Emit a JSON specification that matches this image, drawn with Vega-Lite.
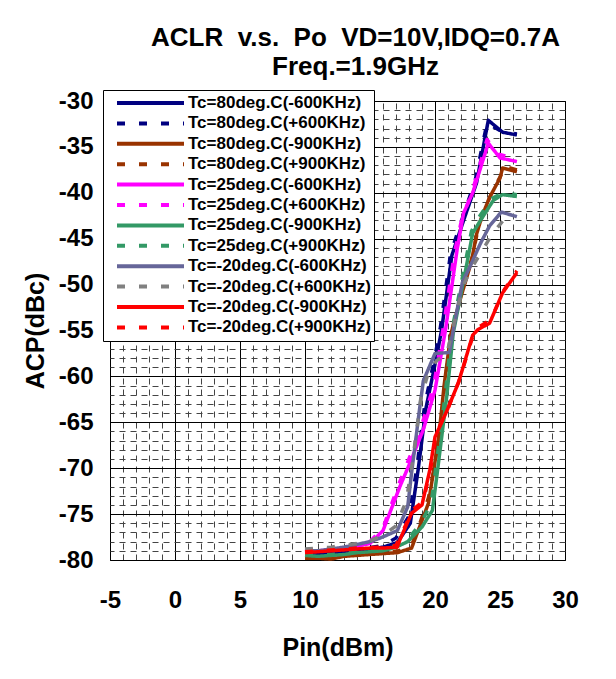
{
  "$schema": "https://vega.github.io/schema/vega-lite/v6.json",
  "width": 455,
  "height": 459,
  "autosize": "none",
  "padding": {"left": 110, "top": 101, "right": 51, "bottom": 119},
  "background": "white",
  "title": {
    "text": ["ACLR\u00a0\u00a0v.s.\u00a0\u00a0Po\u00a0\u00a0VD=10V,IDQ=0.7A", "Freq.=1.9GHz"],
    "font": "Liberation Sans", "fontSize": 26, "fontWeight": "bold", "color": "black",
    "anchor": "middle", "dx": 18, "lineHeight": 29, "offset": 9
  },
  "data": {"values": [
    {"s":"Tc=80deg.C(-600KHz)","pin":10,"acp":-79.4},{"s":"Tc=80deg.C(-600KHz)","pin":11,"acp":-79.4},{"s":"Tc=80deg.C(-600KHz)","pin":12,"acp":-79.3},{"s":"Tc=80deg.C(-600KHz)","pin":13,"acp":-79.2},{"s":"Tc=80deg.C(-600KHz)","pin":14,"acp":-79.0},{"s":"Tc=80deg.C(-600KHz)","pin":15,"acp":-78.8},{"s":"Tc=80deg.C(-600KHz)","pin":16,"acp":-78.6},{"s":"Tc=80deg.C(-600KHz)","pin":17.1,"acp":-78.1},{"s":"Tc=80deg.C(-600KHz)","pin":18.1,"acp":-76.0},{"s":"Tc=80deg.C(-600KHz)","pin":18.7,"acp":-70.2},{"s":"Tc=80deg.C(-600KHz)","pin":19.3,"acp":-63.5},{"s":"Tc=80deg.C(-600KHz)","pin":20.1,"acp":-58.0},{"s":"Tc=80deg.C(-600KHz)","pin":20.5,"acp":-55.0},{"s":"Tc=80deg.C(-600KHz)","pin":21.3,"acp":-46.8},{"s":"Tc=80deg.C(-600KHz)","pin":22.2,"acp":-43.0},{"s":"Tc=80deg.C(-600KHz)","pin":23.2,"acp":-38.9},{"s":"Tc=80deg.C(-600KHz)","pin":24.1,"acp":-32.1},{"s":"Tc=80deg.C(-600KHz)","pin":25.2,"acp":-33.4},{"s":"Tc=80deg.C(-600KHz)","pin":26.3,"acp":-33.7},
    {"s":"Tc=80deg.C(+600KHz)","pin":10,"acp":-79.3},{"s":"Tc=80deg.C(+600KHz)","pin":12,"acp":-79.2},{"s":"Tc=80deg.C(+600KHz)","pin":14,"acp":-78.9},{"s":"Tc=80deg.C(+600KHz)","pin":16,"acp":-78.4},{"s":"Tc=80deg.C(+600KHz)","pin":17,"acp":-77.6},{"s":"Tc=80deg.C(+600KHz)","pin":18,"acp":-75.2},{"s":"Tc=80deg.C(+600KHz)","pin":18.6,"acp":-70.0},{"s":"Tc=80deg.C(+600KHz)","pin":19.2,"acp":-63.2},{"s":"Tc=80deg.C(+600KHz)","pin":20,"acp":-57.8},{"s":"Tc=80deg.C(+600KHz)","pin":20.4,"acp":-54.8},{"s":"Tc=80deg.C(+600KHz)","pin":21.2,"acp":-46.6},{"s":"Tc=80deg.C(+600KHz)","pin":22.1,"acp":-42.8},{"s":"Tc=80deg.C(+600KHz)","pin":23.1,"acp":-38.6},{"s":"Tc=80deg.C(+600KHz)","pin":24.0,"acp":-32.4},{"s":"Tc=80deg.C(+600KHz)","pin":25.1,"acp":-33.3},{"s":"Tc=80deg.C(+600KHz)","pin":26.3,"acp":-33.6},
    {"s":"Tc=80deg.C(-900KHz)","pin":10,"acp":-79.8},{"s":"Tc=80deg.C(-900KHz)","pin":11,"acp":-79.8},{"s":"Tc=80deg.C(-900KHz)","pin":12,"acp":-79.9},{"s":"Tc=80deg.C(-900KHz)","pin":13,"acp":-79.6},{"s":"Tc=80deg.C(-900KHz)","pin":14,"acp":-79.5},{"s":"Tc=80deg.C(-900KHz)","pin":15,"acp":-79.4},{"s":"Tc=80deg.C(-900KHz)","pin":16,"acp":-79.3},{"s":"Tc=80deg.C(-900KHz)","pin":17.1,"acp":-79.2},{"s":"Tc=80deg.C(-900KHz)","pin":18.2,"acp":-78.7},{"s":"Tc=80deg.C(-900KHz)","pin":18.6,"acp":-77.2},{"s":"Tc=80deg.C(-900KHz)","pin":19.5,"acp":-73.8},{"s":"Tc=80deg.C(-900KHz)","pin":19.9,"acp":-70.2},{"s":"Tc=80deg.C(-900KHz)","pin":20.3,"acp":-66.5},{"s":"Tc=80deg.C(-900KHz)","pin":20.7,"acp":-61.0},{"s":"Tc=80deg.C(-900KHz)","pin":21.2,"acp":-55.5},{"s":"Tc=80deg.C(-900KHz)","pin":21.9,"acp":-51.8},{"s":"Tc=80deg.C(-900KHz)","pin":22.8,"acp":-47.5},{"s":"Tc=80deg.C(-900KHz)","pin":23.2,"acp":-44.5},{"s":"Tc=80deg.C(-900KHz)","pin":23.6,"acp":-42.6},{"s":"Tc=80deg.C(-900KHz)","pin":24.2,"acp":-40.5},{"s":"Tc=80deg.C(-900KHz)","pin":25.0,"acp":-38.4},{"s":"Tc=80deg.C(-900KHz)","pin":25.2,"acp":-37.3},{"s":"Tc=80deg.C(-900KHz)","pin":26.3,"acp":-37.7},
    {"s":"Tc=80deg.C(+900KHz)","pin":10,"acp":-79.7},{"s":"Tc=80deg.C(+900KHz)","pin":12,"acp":-79.7},{"s":"Tc=80deg.C(+900KHz)","pin":14,"acp":-79.4},{"s":"Tc=80deg.C(+900KHz)","pin":16,"acp":-79.2},{"s":"Tc=80deg.C(+900KHz)","pin":17.2,"acp":-79.0},{"s":"Tc=80deg.C(+900KHz)","pin":18.2,"acp":-78.4},{"s":"Tc=80deg.C(+900KHz)","pin":18.7,"acp":-76.6},{"s":"Tc=80deg.C(+900KHz)","pin":19.5,"acp":-73.2},{"s":"Tc=80deg.C(+900KHz)","pin":20,"acp":-69.5},{"s":"Tc=80deg.C(+900KHz)","pin":20.4,"acp":-65.5},{"s":"Tc=80deg.C(+900KHz)","pin":20.8,"acp":-60.2},{"s":"Tc=80deg.C(+900KHz)","pin":21.3,"acp":-55.0},{"s":"Tc=80deg.C(+900KHz)","pin":22,"acp":-51.2},{"s":"Tc=80deg.C(+900KHz)","pin":22.9,"acp":-46.8},{"s":"Tc=80deg.C(+900KHz)","pin":23.3,"acp":-44.0},{"s":"Tc=80deg.C(+900KHz)","pin":23.7,"acp":-42.2},{"s":"Tc=80deg.C(+900KHz)","pin":24.3,"acp":-40.2},{"s":"Tc=80deg.C(+900KHz)","pin":25.1,"acp":-38.0},{"s":"Tc=80deg.C(+900KHz)","pin":25.3,"acp":-37.1},{"s":"Tc=80deg.C(+900KHz)","pin":26.3,"acp":-37.5},
    {"s":"Tc=25deg.C(-600KHz)","pin":10,"acp":-79.1},{"s":"Tc=25deg.C(-600KHz)","pin":11,"acp":-79.0},{"s":"Tc=25deg.C(-600KHz)","pin":12,"acp":-78.9},{"s":"Tc=25deg.C(-600KHz)","pin":13,"acp":-78.8},{"s":"Tc=25deg.C(-600KHz)","pin":14,"acp":-78.5},{"s":"Tc=25deg.C(-600KHz)","pin":15,"acp":-78.2},{"s":"Tc=25deg.C(-600KHz)","pin":16,"acp":-76.8},{"s":"Tc=25deg.C(-600KHz)","pin":17.3,"acp":-72.0},{"s":"Tc=25deg.C(-600KHz)","pin":18.2,"acp":-69.0},{"s":"Tc=25deg.C(-600KHz)","pin":19.1,"acp":-65.8},{"s":"Tc=25deg.C(-600KHz)","pin":20.0,"acp":-61.5},{"s":"Tc=25deg.C(-600KHz)","pin":20.8,"acp":-55.0},{"s":"Tc=25deg.C(-600KHz)","pin":21.7,"acp":-46.2},{"s":"Tc=25deg.C(-600KHz)","pin":22.2,"acp":-42.2},{"s":"Tc=25deg.C(-600KHz)","pin":22.9,"acp":-40.0},{"s":"Tc=25deg.C(-600KHz)","pin":24.1,"acp":-34.6},{"s":"Tc=25deg.C(-600KHz)","pin":25.0,"acp":-36.2},{"s":"Tc=25deg.C(-600KHz)","pin":26.3,"acp":-36.6},
    {"s":"Tc=25deg.C(+600KHz)","pin":10,"acp":-79.0},{"s":"Tc=25deg.C(+600KHz)","pin":12,"acp":-78.8},{"s":"Tc=25deg.C(+600KHz)","pin":14,"acp":-78.4},{"s":"Tc=25deg.C(+600KHz)","pin":15,"acp":-78.0},{"s":"Tc=25deg.C(+600KHz)","pin":16,"acp":-76.5},{"s":"Tc=25deg.C(+600KHz)","pin":17.2,"acp":-71.8},{"s":"Tc=25deg.C(+600KHz)","pin":18.1,"acp":-68.6},{"s":"Tc=25deg.C(+600KHz)","pin":19,"acp":-65.2},{"s":"Tc=25deg.C(+600KHz)","pin":19.9,"acp":-61.0},{"s":"Tc=25deg.C(+600KHz)","pin":20.6,"acp":-55.0},{"s":"Tc=25deg.C(+600KHz)","pin":21.5,"acp":-46.5},{"s":"Tc=25deg.C(+600KHz)","pin":22.1,"acp":-42.6},{"s":"Tc=25deg.C(+600KHz)","pin":22.8,"acp":-40.2},{"s":"Tc=25deg.C(+600KHz)","pin":24.0,"acp":-34.2},{"s":"Tc=25deg.C(+600KHz)","pin":24.9,"acp":-35.8},{"s":"Tc=25deg.C(+600KHz)","pin":26.3,"acp":-36.3},
    {"s":"Tc=25deg.C(-900KHz)","pin":10,"acp":-79.5},{"s":"Tc=25deg.C(-900KHz)","pin":11,"acp":-79.6},{"s":"Tc=25deg.C(-900KHz)","pin":12,"acp":-79.5},{"s":"Tc=25deg.C(-900KHz)","pin":13,"acp":-79.4},{"s":"Tc=25deg.C(-900KHz)","pin":14,"acp":-79.2},{"s":"Tc=25deg.C(-900KHz)","pin":15,"acp":-79.1},{"s":"Tc=25deg.C(-900KHz)","pin":16,"acp":-79.0},{"s":"Tc=25deg.C(-900KHz)","pin":17,"acp":-78.6},{"s":"Tc=25deg.C(-900KHz)","pin":17.9,"acp":-78.0},{"s":"Tc=25deg.C(-900KHz)","pin":19.0,"acp":-76.4},{"s":"Tc=25deg.C(-900KHz)","pin":19.8,"acp":-74.6},{"s":"Tc=25deg.C(-900KHz)","pin":20.2,"acp":-70.2},{"s":"Tc=25deg.C(-900KHz)","pin":20.9,"acp":-62.2},{"s":"Tc=25deg.C(-900KHz)","pin":21.4,"acp":-55.3},{"s":"Tc=25deg.C(-900KHz)","pin":22.1,"acp":-50.3},{"s":"Tc=25deg.C(-900KHz)","pin":22.9,"acp":-44.4},{"s":"Tc=25deg.C(-900KHz)","pin":23.5,"acp":-43.0},{"s":"Tc=25deg.C(-900KHz)","pin":24.5,"acp":-40.8},{"s":"Tc=25deg.C(-900KHz)","pin":25.2,"acp":-40.2},{"s":"Tc=25deg.C(-900KHz)","pin":26.3,"acp":-40.4},
    {"s":"Tc=25deg.C(+900KHz)","pin":10,"acp":-79.4},{"s":"Tc=25deg.C(+900KHz)","pin":12,"acp":-79.4},{"s":"Tc=25deg.C(+900KHz)","pin":14,"acp":-79.1},{"s":"Tc=25deg.C(+900KHz)","pin":16,"acp":-78.9},{"s":"Tc=25deg.C(+900KHz)","pin":17,"acp":-78.4},{"s":"Tc=25deg.C(+900KHz)","pin":18,"acp":-77.6},{"s":"Tc=25deg.C(+900KHz)","pin":19,"acp":-75.8},{"s":"Tc=25deg.C(+900KHz)","pin":19.7,"acp":-73.8},{"s":"Tc=25deg.C(+900KHz)","pin":20.1,"acp":-69.6},{"s":"Tc=25deg.C(+900KHz)","pin":20.8,"acp":-61.8},{"s":"Tc=25deg.C(+900KHz)","pin":21.3,"acp":-55.0},{"s":"Tc=25deg.C(+900KHz)","pin":22,"acp":-50.0},{"s":"Tc=25deg.C(+900KHz)","pin":22.8,"acp":-44.2},{"s":"Tc=25deg.C(+900KHz)","pin":23.4,"acp":-42.6},{"s":"Tc=25deg.C(+900KHz)","pin":24.4,"acp":-40.6},{"s":"Tc=25deg.C(+900KHz)","pin":25.2,"acp":-40.0},{"s":"Tc=25deg.C(+900KHz)","pin":26.3,"acp":-40.2},
    {"s":"Tc=-20deg.C(-600KHz)","pin":10,"acp":-79.0},{"s":"Tc=-20deg.C(-600KHz)","pin":11,"acp":-79.0},{"s":"Tc=-20deg.C(-600KHz)","pin":12,"acp":-78.8},{"s":"Tc=-20deg.C(-600KHz)","pin":13,"acp":-78.6},{"s":"Tc=-20deg.C(-600KHz)","pin":14,"acp":-78.3},{"s":"Tc=-20deg.C(-600KHz)","pin":15,"acp":-78.0},{"s":"Tc=-20deg.C(-600KHz)","pin":15.8,"acp":-77.6},{"s":"Tc=-20deg.C(-600KHz)","pin":17.1,"acp":-76.8},{"s":"Tc=-20deg.C(-600KHz)","pin":17.9,"acp":-74.2},{"s":"Tc=-20deg.C(-600KHz)","pin":18.2,"acp":-70.5},{"s":"Tc=-20deg.C(-600KHz)","pin":18.8,"acp":-63.7},{"s":"Tc=-20deg.C(-600KHz)","pin":19.1,"acp":-60.5},{"s":"Tc=-20deg.C(-600KHz)","pin":20.0,"acp":-57.5},{"s":"Tc=-20deg.C(-600KHz)","pin":21.1,"acp":-57.4},{"s":"Tc=-20deg.C(-600KHz)","pin":21.4,"acp":-55.0},{"s":"Tc=-20deg.C(-600KHz)","pin":22.1,"acp":-49.8},{"s":"Tc=-20deg.C(-600KHz)","pin":22.7,"acp":-48.0},{"s":"Tc=-20deg.C(-600KHz)","pin":23.5,"acp":-45.5},{"s":"Tc=-20deg.C(-600KHz)","pin":24.2,"acp":-43.6},{"s":"Tc=-20deg.C(-600KHz)","pin":25.1,"acp":-42.1},{"s":"Tc=-20deg.C(-600KHz)","pin":26.3,"acp":-42.6},
    {"s":"Tc=-20deg.C(+600KHz)","pin":10,"acp":-78.8},{"s":"Tc=-20deg.C(+600KHz)","pin":12,"acp":-78.6},{"s":"Tc=-20deg.C(+600KHz)","pin":14,"acp":-78.2},{"s":"Tc=-20deg.C(+600KHz)","pin":15,"acp":-77.9},{"s":"Tc=-20deg.C(+600KHz)","pin":16,"acp":-77.3},{"s":"Tc=-20deg.C(+600KHz)","pin":17,"acp":-76.3},{"s":"Tc=-20deg.C(+600KHz)","pin":17.8,"acp":-73.5},{"s":"Tc=-20deg.C(+600KHz)","pin":18.3,"acp":-69.0},{"s":"Tc=-20deg.C(+600KHz)","pin":18.9,"acp":-62.5},{"s":"Tc=-20deg.C(+600KHz)","pin":19.4,"acp":-60.0},{"s":"Tc=-20deg.C(+600KHz)","pin":20.1,"acp":-58.3},{"s":"Tc=-20deg.C(+600KHz)","pin":20.9,"acp":-57.6},{"s":"Tc=-20deg.C(+600KHz)","pin":21.5,"acp":-54.0},{"s":"Tc=-20deg.C(+600KHz)","pin":22.2,"acp":-50.0},{"s":"Tc=-20deg.C(+600KHz)","pin":22.9,"acp":-48.0},{"s":"Tc=-20deg.C(+600KHz)","pin":24.4,"acp":-44.5},{"s":"Tc=-20deg.C(+600KHz)","pin":25.2,"acp":-43.1},
    {"s":"Tc=-20deg.C(-900KHz)","pin":10,"acp":-79.2},{"s":"Tc=-20deg.C(-900KHz)","pin":11,"acp":-79.1},{"s":"Tc=-20deg.C(-900KHz)","pin":12,"acp":-79.0},{"s":"Tc=-20deg.C(-900KHz)","pin":13,"acp":-78.9},{"s":"Tc=-20deg.C(-900KHz)","pin":14,"acp":-78.8},{"s":"Tc=-20deg.C(-900KHz)","pin":15,"acp":-78.7},{"s":"Tc=-20deg.C(-900KHz)","pin":16,"acp":-78.7},{"s":"Tc=-20deg.C(-900KHz)","pin":17.1,"acp":-78.6},{"s":"Tc=-20deg.C(-900KHz)","pin":17.3,"acp":-77.8},{"s":"Tc=-20deg.C(-900KHz)","pin":18.2,"acp":-74.9},{"s":"Tc=-20deg.C(-900KHz)","pin":19.0,"acp":-74.0},{"s":"Tc=-20deg.C(-900KHz)","pin":19.6,"acp":-70.2},{"s":"Tc=-20deg.C(-900KHz)","pin":20.0,"acp":-66.6},{"s":"Tc=-20deg.C(-900KHz)","pin":20.9,"acp":-63.8},{"s":"Tc=-20deg.C(-900KHz)","pin":21.8,"acp":-60.7},{"s":"Tc=-20deg.C(-900KHz)","pin":22.9,"acp":-55.5},{"s":"Tc=-20deg.C(-900KHz)","pin":23.3,"acp":-54.9},{"s":"Tc=-20deg.C(-900KHz)","pin":24.2,"acp":-54.2},{"s":"Tc=-20deg.C(-900KHz)","pin":25.2,"acp":-50.9},{"s":"Tc=-20deg.C(-900KHz)","pin":26.3,"acp":-48.7},
    {"s":"Tc=-20deg.C(+900KHz)","pin":10,"acp":-79.1},{"s":"Tc=-20deg.C(+900KHz)","pin":12,"acp":-78.9},{"s":"Tc=-20deg.C(+900KHz)","pin":14,"acp":-78.7},{"s":"Tc=-20deg.C(+900KHz)","pin":16,"acp":-78.6},{"s":"Tc=-20deg.C(+900KHz)","pin":17,"acp":-78.4},{"s":"Tc=-20deg.C(+900KHz)","pin":17.4,"acp":-77.2},{"s":"Tc=-20deg.C(+900KHz)","pin":18.3,"acp":-74.5},{"s":"Tc=-20deg.C(+900KHz)","pin":19.1,"acp":-73.6},{"s":"Tc=-20deg.C(+900KHz)","pin":19.7,"acp":-69.8},{"s":"Tc=-20deg.C(+900KHz)","pin":20.1,"acp":-66.2},{"s":"Tc=-20deg.C(+900KHz)","pin":21,"acp":-63.5},{"s":"Tc=-20deg.C(+900KHz)","pin":21.9,"acp":-60.3},{"s":"Tc=-20deg.C(+900KHz)","pin":23,"acp":-55.2},{"s":"Tc=-20deg.C(+900KHz)","pin":23.4,"acp":-54.6},{"s":"Tc=-20deg.C(+900KHz)","pin":24.3,"acp":-53.8},{"s":"Tc=-20deg.C(+900KHz)","pin":25.3,"acp":-50.6},{"s":"Tc=-20deg.C(+900KHz)","pin":26.3,"acp":-48.5}
  ]},
  "layer": [
    {
      "mark": {"type": "line", "opacity": 0},
      "encoding": {
        "x": {"field": "pin", "type": "quantitative", "scale": {"domain": [-5, 30], "nice": false, "zero": false},
          "axis": {"orient": "top", "values": [-4,-3,-2,-1,1,2,3,4,6,7,8,9,11,12,13,14,16,17,18,19,21,22,23,24,26,27,28,29],
            "grid": true, "gridDash": [6, 5], "gridColor": "#444", "gridWidth": 1, "labels": false, "ticks": false, "domain": false, "title": null}},
        "y": {"field": "acp", "type": "quantitative", "scale": {"domain": [-80, -30], "nice": false, "zero": false},
          "axis": {"orient": "right", "values": [-79,-78,-77,-76,-74,-73,-72,-71,-69,-68,-67,-66,-64,-63,-62,-61,-59,-58,-57,-56,-54,-53,-52,-51,-49,-48,-47,-46,-44,-43,-42,-41,-39,-38,-37,-36,-34,-33,-32,-31],
            "grid": true, "gridDash": [6, 5], "gridColor": "#444", "gridWidth": 1, "labels": false, "ticks": false, "domain": false, "title": null}},
        "detail": {"field": "s"}
      }
    },
    {
      "mark": {"type": "line", "strokeWidth": 3.5, "strokeJoin": "round"},
      "encoding": {
        "x": {"field": "pin", "type": "quantitative",
          "axis": {"orient": "bottom", "values": [-5,0,5,10,15,20,25,30], "labelExpr": "toString(datum.value)", "grid": true, "gridColor": "black", "gridWidth": 1, "gridOpacity": 1,
            "ticks": false, "domain": false, "labelFont": "Liberation Sans", "labelFontWeight": "bold", "labelFontSize": 24, "labelColor": "black",
            "labelPadding": 28, "labelFlush": false, "labelOverlap": false,
            "title": "Pin(dBm)", "titleFont": "Liberation Sans", "titleFontWeight": "bold", "titleFontSize": 25, "titleColor": "black", "titlePadding": 23}},
        "y": {"field": "acp", "type": "quantitative",
          "axis": {"orient": "left", "values": [-80,-75,-70,-65,-60,-55,-50,-45,-40,-35,-30], "labelExpr": "toString(datum.value)", "grid": true, "gridColor": "black", "gridWidth": 1, "gridOpacity": 1,
            "ticks": false, "domain": false, "labelFont": "Liberation Sans", "labelFontWeight": "bold", "labelFontSize": 24, "labelColor": "black",
            "labelPadding": 17, "labelFlush": false, "labelOverlap": false,
            "title": "ACP(dBc)", "titleFont": "Liberation Sans", "titleFontWeight": "bold", "titleFontSize": 25, "titleColor": "black", "titlePadding": 10}},
        "color": {"field": "s", "type": "nominal",
          "scale": {"domain": ["Tc=80deg.C(-600KHz)","Tc=80deg.C(+600KHz)","Tc=80deg.C(-900KHz)","Tc=80deg.C(+900KHz)","Tc=25deg.C(-600KHz)","Tc=25deg.C(+600KHz)","Tc=25deg.C(-900KHz)","Tc=25deg.C(+900KHz)","Tc=-20deg.C(-600KHz)","Tc=-20deg.C(+600KHz)","Tc=-20deg.C(-900KHz)","Tc=-20deg.C(+900KHz)"],
            "range": ["#000080","#000080","#993300","#993300","#FF00FF","#FF00FF","#339966","#339966","#666699","#808080","#FF0000","#FF0000"]},
          "legend": {"orient": "none", "legendX": -7, "legendY": -11, "title": null, "symbolType": "stroke", "symbolSize": 4489, "symbolStrokeWidth": 4,
            "clipHeight": 20, "rowPadding": 0.4, "padding": 3, "symbolOffset": 9, "labelOffset": 2,
            "labelFont": "Liberation Sans", "labelFontWeight": "bold", "labelFontSize": 17, "labelColor": "black", "labelLimit": 0,
            "fillColor": "white", "strokeColor": "black"}},
        "strokeDash": {"field": "s", "type": "nominal",
          "scale": {"domain": ["Tc=80deg.C(-600KHz)","Tc=80deg.C(+600KHz)","Tc=80deg.C(-900KHz)","Tc=80deg.C(+900KHz)","Tc=25deg.C(-600KHz)","Tc=25deg.C(+600KHz)","Tc=25deg.C(-900KHz)","Tc=25deg.C(+900KHz)","Tc=-20deg.C(-600KHz)","Tc=-20deg.C(+600KHz)","Tc=-20deg.C(-900KHz)","Tc=-20deg.C(+900KHz)"],
            "range": [[1,0],[8,14],[1,0],[8,14],[1,0],[8,14],[1,0],[8,14],[1,0],[8,14],[1,0],[8,14]]},
          "legend": {"orient": "none", "legendX": -7, "legendY": -11, "title": null, "symbolType": "stroke", "symbolSize": 4489, "symbolStrokeWidth": 4,
            "clipHeight": 20, "rowPadding": 0.4, "padding": 3, "symbolOffset": 9, "labelOffset": 2,
            "labelFont": "Liberation Sans", "labelFontWeight": "bold", "labelFontSize": 17, "labelColor": "black", "labelLimit": 0,
            "fillColor": "white", "strokeColor": "black"}}
      }
    }
  ],
  "resolve": {"axis": {"x": "independent", "y": "independent"}},
  "config": {
    "font": "Liberation Sans",
    "view": {"stroke": "black", "strokeWidth": 1}
  }
}
